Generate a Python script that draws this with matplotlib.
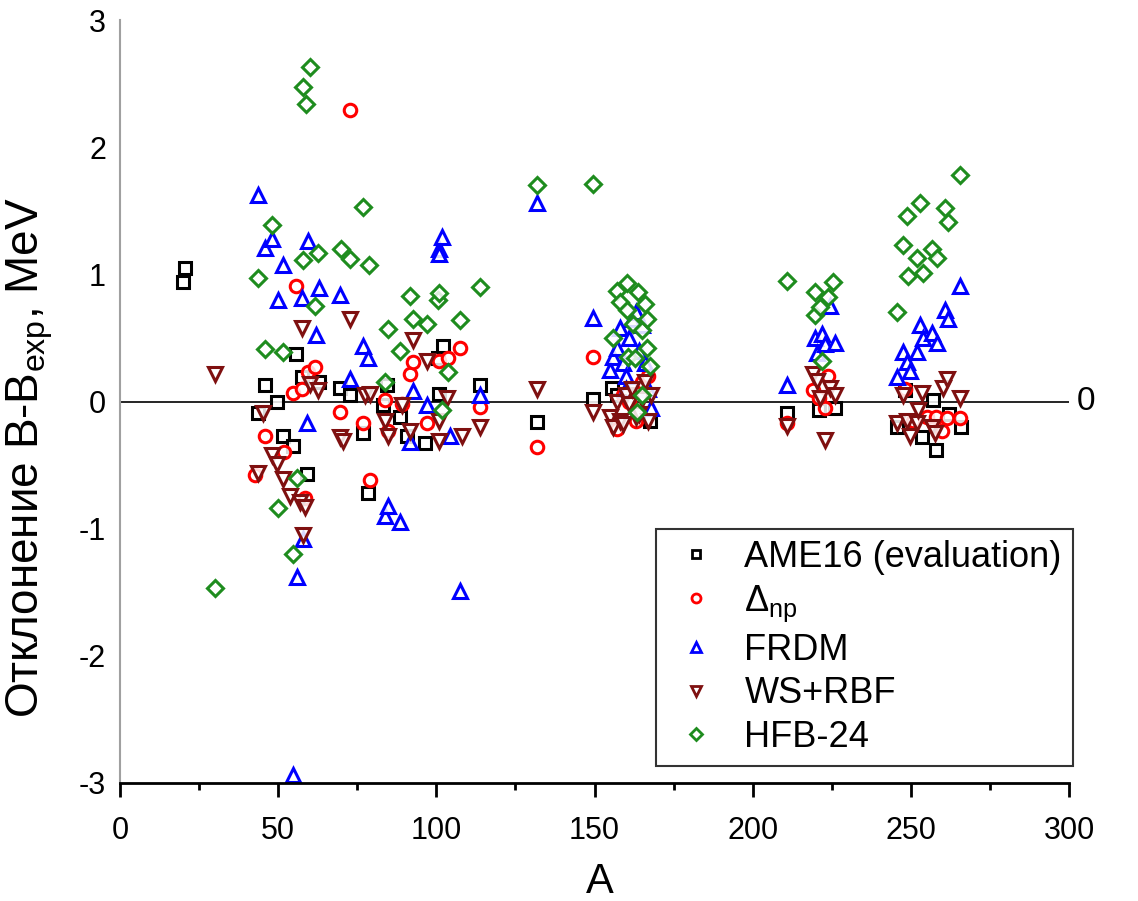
import matplotlib
matplotlib.use("Agg")
import matplotlib.pyplot as plt
import warnings
warnings.filterwarnings("ignore")

plt.rcParams['font.family'] = ['Liberation Sans', 'DejaVu Sans']
plt.rcParams['mathtext.default'] = 'regular'

# ---------------- data ----------------
A_ame = [19.8, 20.5, 43.6, 45.8, 49.6, 51.6, 54.7, 55.6, 57.5, 59.0, 63.0, 69.5, 72.7, 76.8, 78.4,
         83.0, 84.4, 88.5, 90.7, 96.4, 100.5, 101.0, 102.0, 113.8, 131.8, 149.6, 155.5, 157.0, 167.6,
         210.8, 221.0, 226.0, 245.6, 248.0, 253.5, 257.0, 258.0, 262.0, 266.0]
V_ame = [0.94, 1.05, -0.09, 0.13, 0.00, -0.27, -0.35, 0.37, 0.19, -0.57, 0.15, 0.11, 0.05, -0.25, -0.72,
         -0.03, 0.13, -0.12, -0.27, -0.33, 0.34, 0.06, 0.44, 0.13, -0.16, 0.02, 0.11, 0.05, -0.15,
         -0.09, -0.07, -0.05, -0.20, 0.09, -0.28, 0.01, -0.38, -0.10, -0.20]

A_dnp = [45.8, 42.7, 52.0, 54.7, 55.6, 57.5, 58.5, 59.4, 61.7, 69.5, 72.7, 76.8, 79.0, 83.8, 84.7,
         89.0, 91.7, 92.6, 97.0, 101.0, 103.7, 107.5, 113.8, 131.8, 149.6, 157, 159, 161, 163, 165,
         167, 210.8, 219, 221, 223, 223.8, 248, 250.7, 255, 258, 260, 261.5, 265.5]
V_dnp = [-0.27, -0.58, -0.40, 0.07, 0.91, 0.10, -0.76, 0.23, 0.27, -0.08, 2.29, -0.17, -0.62, 0.01, -0.23,
         -0.02, 0.22, 0.31, -0.17, 0.32, 0.34, 0.42, -0.04, -0.36, 0.35, -0.22, 0.05, 0.00, -0.15, 0.15,
         0.20, -0.17, 0.09, 0.03, -0.05, 0.20, 0.10, -0.15, -0.12, -0.12, -0.23, -0.13, -0.13]

A_frdm = [43.6, 45.8, 48.0, 50.0, 51.6, 54.8, 56.0, 57.5, 58.0, 59.0, 59.5, 62.0, 63.0, 69.5, 72.7,
          76.8, 78.4, 83.8, 84.8, 88.5, 91.7, 92.6, 97.0, 100.8, 100.8, 101.8, 104.3, 107.5, 113.8, 131.8,
          149.6, 155, 156, 157, 158, 159, 160, 160, 161, 162, 163, 164, 165, 166, 167,
          168, 210.8, 219.7, 220.4, 222, 223, 224.4, 226, 245.6, 247.5, 248.8, 249.8, 252, 252.9, 253.9,
          256.7, 258.3, 260.8, 261.8, 265.6]
V_frdm = [1.62, 1.21, 1.28, 0.80, 1.07, -2.94, -1.38, 0.81, -1.08, -0.17, 1.26, 0.52, 0.89, 0.84, 0.18,
          0.44, 0.34, -0.90, -0.82, -0.95, -0.32, 0.08, -0.03, 1.20, 1.16, 1.29, -0.27, -1.49, 0.05, 1.56,
          0.66, 0.25, 0.35, 0.42, 0.58, 0.30, 0.20, 0.10, 0.50, 0.65, 0.70, 0.40, 0.60, 0.30, 0.10,
          -0.05, 0.13, 0.50, 0.38, 0.53, 0.45, 0.75, 0.46, 0.19, 0.39, 0.31, 0.24, 0.39, 0.60, 0.50,
          0.54, 0.46, 0.72, 0.65, 0.91]

A_ws = [30.0, 43.6, 45.2, 48.0, 49.6, 51.6, 53.7, 57.0, 57.5, 57.9, 58.5, 60.0, 62.6, 69.5, 70.5,
        72.7, 77.5, 79.0, 83.8, 84.7, 89.0, 91.7, 92.6, 97.0, 101.0, 101.0, 103.4, 108.0, 113.8, 131.8,
        149.6, 155, 156, 157, 158, 159, 160, 161, 162, 163, 164, 165, 166, 167, 168,
        210.8, 219.0, 220.3, 221.3, 223.0, 224.4, 226.0, 245.6, 247.6, 248.8, 249.8, 252.0, 252.3, 253.5,
        256.7, 257.7, 260.3, 261.4, 265.5]
V_ws = [0.22, -0.56, -0.09, -0.42, -0.49, -0.61, -0.74, -0.79, 0.58, -1.05, -0.83, 0.14, 0.09, -0.28, -0.31,
        0.65, 0.05, 0.06, -0.15, -0.27, -0.03, -0.23, 0.48, 0.32, -0.15, -0.31, 0.03, -0.27, -0.20, 0.10,
        -0.08, -0.12, -0.20, 0.00, -0.15, -0.18, 0.05, -0.02, 0.10, -0.12, -0.10, 0.02, 0.15, -0.15, 0.05,
        -0.19, 0.22, 0.16, 0.03, -0.30, 0.11, 0.05, -0.17, 0.05, -0.15, -0.27, -0.17, -0.07, 0.07,
        -0.20, -0.25, 0.11, 0.18, 0.03]

A_hfb = [30.0, 43.6, 45.8, 48.0, 50.0, 51.6, 54.7, 56.0, 57.9, 57.9, 58.8, 60.0, 61.7, 62.6, 69.9,
         72.7, 76.8, 78.7, 83.8, 84.7, 88.5, 91.7, 92.6, 97.0, 100.5, 101.0, 101.8, 103.7, 107.5, 113.8,
         131.8, 149.6, 155.9, 157, 158, 160.3, 160.3, 160.6, 162.2, 162.8, 163.5, 163.8, 165, 165, 166,
         166.6, 166.6, 167.6, 210.8, 219.7, 219.7, 221.3, 222.0, 223.8, 225.5, 245.6, 247.5, 248.8, 249.1,
         252.0, 252.9, 253.9, 256.7, 258.3, 260.8, 261.8, 265.6]
V_hfb = [-1.47, 0.97, 0.41, 1.39, -0.84, 0.39, -1.20, -0.60, 2.47, 1.11, 2.34, 2.63, 0.75, 1.17, 1.20,
         1.12, 1.53, 1.07, 0.15, 0.57, 0.40, 0.83, 0.65, 0.61, 0.80, 0.85, -0.07, 0.23, 0.64, 0.90,
         1.70, 1.71, 0.50, 0.87, 0.78, 0.93, 0.72, 0.35, 0.61, 0.34, -0.08, 0.86, 0.56, 0.05, 0.77,
         0.65, 0.42, 0.28, 0.95, 0.86, 0.68, 0.74, 0.32, 0.82, 0.94, 0.70, 1.23, 1.46, 0.99,
         1.13, 1.56, 1.01, 1.20, 1.13, 1.52, 1.41, 1.78]

series = [
    ("AME16 (evaluation)", A_ame, V_ame, 's', '#000000'),
    ("Δ$_{np}$", A_dnp, V_dnp, 'o', '#FF0000'),
    ("FRDM", A_frdm, V_frdm, '^', '#0000FF'),
    ("WS+RBF", A_ws, V_ws, 'v', '#7F1010'),
    ("HFB-24", A_hfb, V_hfb, 'D', '#1E8C1E'),
]
msizes = {'s': 8.6, 'o': 9.0, '^': 10.0, 'v': 10.0, 'D': 7.8}

# ---------------- figure ----------------
W, H = 1138, 901
fig = plt.figure(figsize=(W / 100, H / 100), dpi=100)
ax = fig.add_axes([120 / W, 1 - 783 / H, (1069 - 120) / W, (783 - 20) / H])

for label, xs, ys, mk, col in series:
    ax.plot(xs, ys, linestyle='none', marker=mk, markersize=msizes[mk],
            markerfacecolor=(1, 1, 1, 0.85), markeredgecolor=col,
            markeredgewidth=2.2, label=label)

ax.axhline(0, color='black', lw=1.2, zorder=0)

ax.set_xlim(0, 300)
ax.set_ylim(-3, 3)
ax.set_xticks(range(0, 301, 50))
ax.set_xticks(range(25, 300, 50), minor=True)
ax.set_yticks([-3, -2, -1, 0, 1, 2, 3])
ax.set_yticklabels(['-3', '-2', '-1', '0', '1', '2', '3'])

tickfont = ['Liberation Sans Narrow', 'Liberation Sans', 'DejaVu Sans']
for lab in ax.get_xticklabels() + ax.get_yticklabels():
    lab.set_family(tickfont)
    lab.set_fontsize(22)

ax.tick_params(axis='x', which='major', direction='out', length=10, width=2, pad=14)
ax.tick_params(axis='x', which='minor', direction='out', length=5, width=2)
ax.tick_params(axis='y', which='both', length=0, pad=10)

for s in ['top', 'right']:
    ax.spines[s].set_visible(False)
ax.spines['left'].set_color('#a0a0a0')
ax.spines['left'].set_linewidth(1.5)
ax.spines['bottom'].set_linewidth(2)

fig.text(30 / W, 1 - 458 / H, 'Отклонение B-B$_{exp}$, MeV', rotation=90,
         ha='center', va='center', fontsize=33)
fig.text(600 / W, 1 - 882 / H, 'A', ha='center', va='center', fontsize=30,
         family=tickfont)
fig.text(1086 / W, 1 - 401 / H, '0', ha='center', va='center', fontsize=24)

leg = ax.legend(loc='upper left', bbox_to_anchor=((656 - 120) / 949, (783 - 529) / 763),
                fontsize=26, frameon=True, fancybox=False, borderpad=0.3,
                handlelength=1.6, handletextpad=0.55, labelspacing=0.24,
                markerscale=0.72, borderaxespad=0)
leg.get_frame().set_edgecolor('black')
leg.get_frame().set_linewidth(1.5)
for h in leg.legend_handles:
    h.set_markeredgewidth(2.0)
    h.set_markerfacecolor('white')

fig.savefig('out.png', dpi=100)
